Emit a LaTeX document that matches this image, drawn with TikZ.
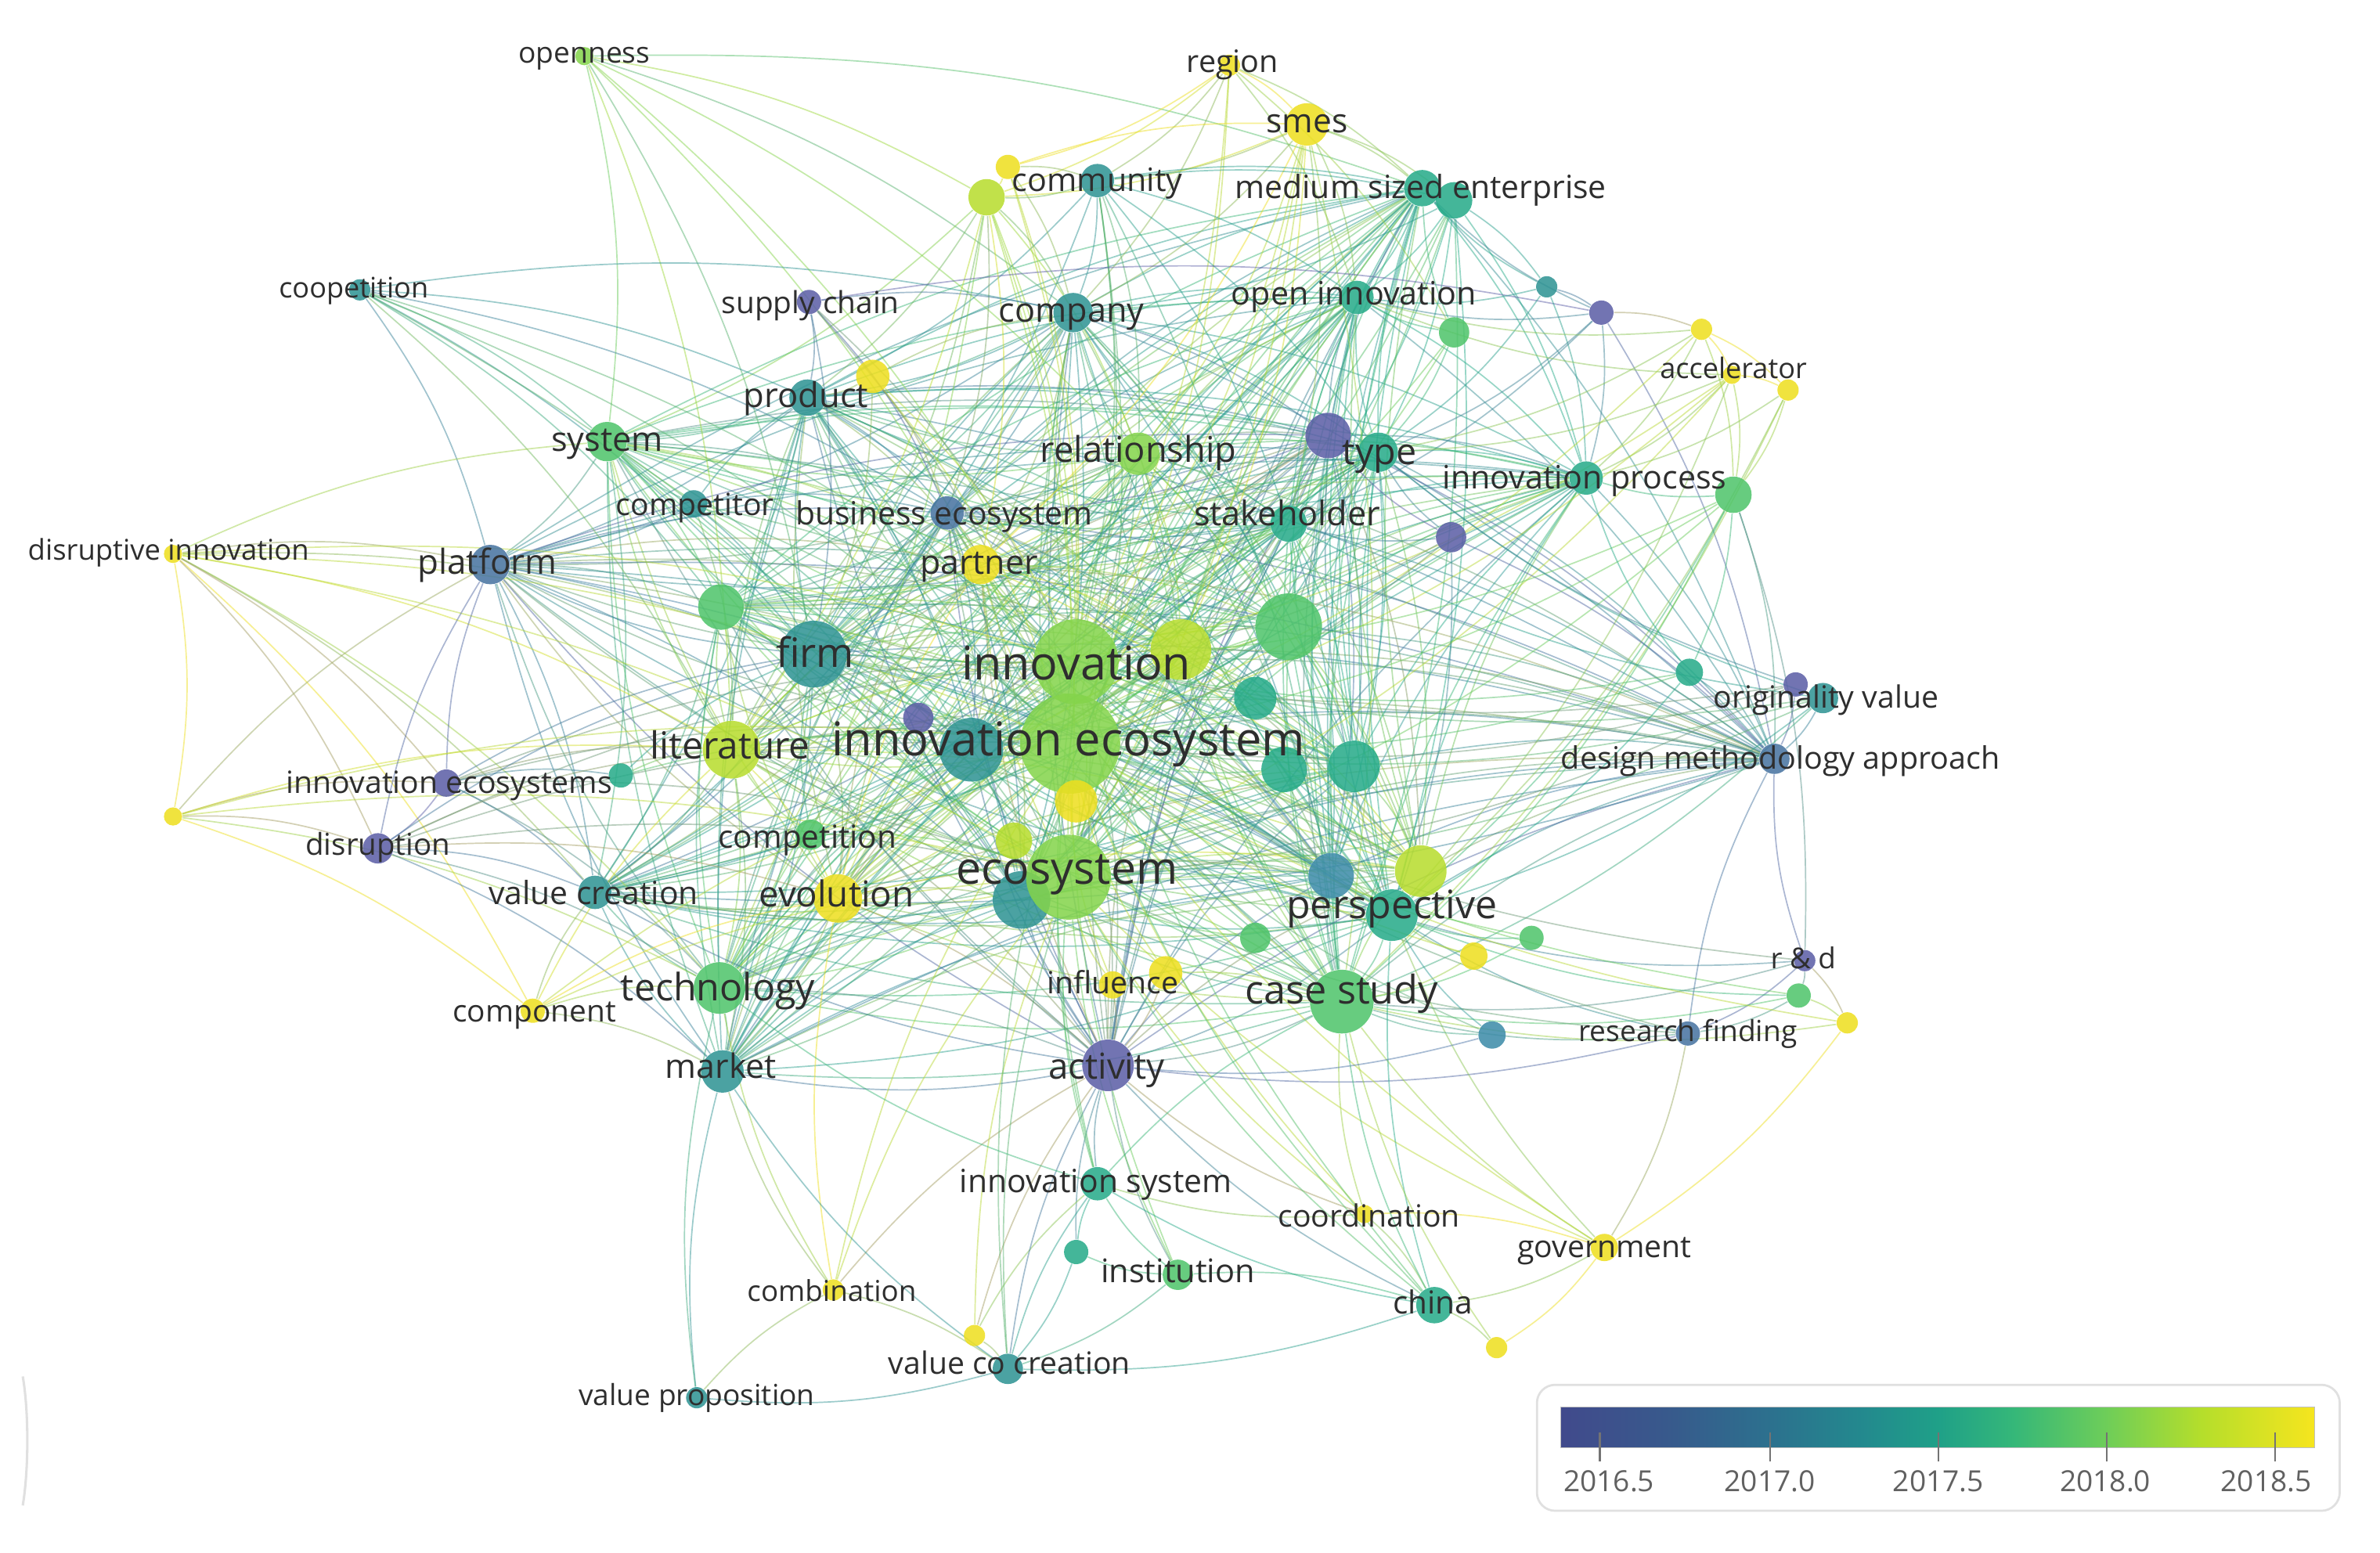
\documentclass[tikz,border=0pt]{standalone}
\usepackage{fontspec}
\setmainfont{Open Sans}
\pgfdeclarelayer{edges}
\pgfsetlayers{edges,main}
\definecolor{vP}{HTML}{5B5EA6}
\definecolor{vB}{HTML}{4673A0}
\definecolor{vBT}{HTML}{3C8BA8}
\definecolor{vT}{HTML}{2E9393}
\definecolor{vTG}{HTML}{26AB89}
\definecolor{vG}{HTML}{4FC46A}
\definecolor{vLG}{HTML}{84D44B}
\definecolor{vYG}{HTML}{B7DD2D}
\definecolor{vY}{HTML}{EEDF1F}
\definecolor{s0}{HTML}{414A8C}
\definecolor{s1}{HTML}{38598C}
\definecolor{s2}{HTML}{2C718E}
\definecolor{s3}{HTML}{23898E}
\definecolor{s4}{HTML}{1FA088}
\definecolor{s5}{HTML}{35B779}
\definecolor{s6}{HTML}{6CCD5A}
\definecolor{s7}{HTML}{B5DE2B}
\definecolor{s8}{HTML}{F6E51E}
\pgfdeclarehorizontalshading{viridisbar}{100bp}{color(0bp)=(s0); color(25bp)=(s0); color(32bp)=(s1); color(39bp)=(s2); color(45bp)=(s3); color(50bp)=(s4); color(55bp)=(s5); color(61bp)=(s6); color(67.5bp)=(s7); color(75bp)=(s8); color(100bp)=(s8)}
\tikzset{
  kwc/.style={circle, inner sep=0pt, draw=none, fill opacity=0.86},
  kwl/.style={inner sep=0pt, text=black!82, anchor=base},
  edge/.style={line width=0.5pt, draw opacity=0.48},
  legbox/.style={draw=black!12, line width=0.8pt, rounded corners=0.24cm, fill=white},
  ticklab/.style={inner sep=0pt, text=black!62, font=\fontsize{10.9pt}{11pt}\selectfont, anchor=base},
  tickline/.style={draw=black!55, line width=0.6pt}
}
\newcommand\kwnode[5]{\colorlet{c#1}{#5}\node[kwc,fill=#5,minimum size={#4*0.4mm}] (#1) at (#2,#3) {};}
\newcommand\kwlab[5]{\node[kwl,font=\fontsize{#4pt}{#4pt}\selectfont] (#1l) at ({#2},{#3+0.58*#4}) {#5};}
\newcommand\kwlinks[2]{\foreach \b in {#2}{\draw[edge,draw=c#1!50!c\b] (#1) to[bend left=10] (\b);}}
\begin{document}
\begin{tikzpicture}[x=0.02cm,y=-0.02cm]
\useasboundingbox (0,0) rectangle (1568,1023);
% ---------- circles ----------
\kwnode{opn}{385}{37}{6}{vLG}
\kwnode{reg}{810}{43}{7}{vY}
\kwnode{smes}{861}{82}{14}{vY}
\kwnode{u663}{664}{110}{8}{vY}
\kwnode{u648}{650}{130}{12}{vYG}
\kwnode{comm}{723}{119}{11}{vT}
\kwnode{mse}{937}{124}{12}{vTG}
\kwnode{u958}{958}{132}{12}{vTG}
\kwnode{coop}{237}{191}{7}{vT}
\kwnode{sup}{533}{199}{8}{vP}
\kwnode{comp}{707}{206}{13}{vT}
\kwnode{oinn}{894}{196}{11}{vTG}
\kwnode{u957}{958}{219}{10}{vG}
\kwnode{u1018}{1019}{189}{7}{vT}
\kwnode{u1055}{1055}{206}{8}{vP}
\kwnode{u1121}{1121}{217}{7}{vY}
\kwnode{acc}{1141}{247}{6}{vY}
\kwnode{u1178}{1178}{257}{7}{vY}
\kwnode{prod}{532}{262}{12}{vT}
\kwnode{u576}{575}{248}{11}{vY}
\kwnode{sys}{400}{291}{13}{vG}
\kwnode{rel}{750}{299}{14}{vLG}
\kwnode{typeP}{875}{287}{15}{vP}
\kwnode{type}{908}{298}{13}{vTG}
\kwnode{ip}{1045}{315}{11}{vTG}
\kwnode{u1142}{1142}{326}{12}{vG}
\kwnode{comp2}{457}{332}{9}{vT}
\kwnode{bus}{624}{338}{11}{vB}
\kwnode{stake}{849}{345}{12}{vTG}
\kwnode{u955}{956}{354}{10}{vP}
\kwnode{dinn}{114}{365}{6}{vY}
\kwnode{plat}{323}{372}{13}{vB}
\kwnode{part}{646}{372}{13}{vY}
\kwnode{u474}{475}{400}{15}{vG}
\kwnode{firm}{536}{431}{22}{vT}
\kwnode{u778}{778}{428}{20}{vYG}
\kwnode{u849}{849}{413}{22}{vG}
\kwnode{inn}{709}{436}{28}{vLG}
\kwnode{u826}{827}{460}{14}{vTG}
\kwnode{u1112}{1113}{443}{9}{vTG}
\kwnode{u1184}{1183}{451}{8}{vP}
\kwnode{ov}{1201}{460}{10}{vT}
\kwnode{u605}{605}{473}{10}{vP}
\kwnode{u641}{640}{494}{21}{vT}
\kwnode{ie}{705}{490}{33}{vLG}
\kwnode{u711}{709}{528}{14}{vY}
\kwnode{lit}{482}{494}{19}{vYG}
\kwnode{u847}{846}{507}{15}{vTG}
\kwnode{u893}{892}{505}{17}{vTG}
\kwnode{dma}{1169}{500}{10}{vB}
\kwnode{ies}{294}{516}{9}{vP}
\kwnode{u410}{409}{511}{8}{vTG}
\kwnode{u114}{114}{538}{6}{vY}
\kwnode{disr}{249}{559}{10}{vP}
\kwnode{compe}{534}{550}{10}{vG}
\kwnode{u670}{668}{554}{12}{vYG}
\kwnode{u673}{673}{593}{19}{vT}
\kwnode{eco}{704}{578}{28}{vLG}
\kwnode{u877}{877}{577}{15}{vBT}
\kwnode{u936}{936}{574}{17}{vYG}
\kwnode{persp}{917}{603}{17}{vTG}
\kwnode{vcr}{392}{588}{11}{vT}
\kwnode{evol}{552}{592}{16}{vY}
\kwnode{u827}{827}{618}{10}{vG}
\kwnode{u1009}{1009}{618}{8}{vG}
\kwnode{u970}{971}{630}{9}{vY}
\kwnode{rd}{1189}{633}{7}{vP}
\kwnode{u1186}{1185}{656}{8}{vG}
\kwnode{u1218}{1217}{674}{7}{vY}
\kwnode{tech}{474}{651}{17}{vG}
\kwnode{infl}{733}{649}{9}{vY}
\kwnode{u768}{768}{641}{11}{vY}
\kwnode{case}{884}{660}{21}{vG}
\kwnode{compn}{351}{666}{8}{vY}
\kwnode{u984}{983}{682}{9}{vBT}
\kwnode{rf}{1112}{681}{8}{vB}
\kwnode{mkt}{476}{706}{14}{vT}
\kwnode{act}{730}{702}{17}{vP}
\kwnode{isys}{723}{780}{11}{vTG}
\kwnode{coord}{899}{800}{6}{vY}
\kwnode{gov}{1057}{822}{9}{vY}
\kwnode{u710}{709}{825}{8}{vTG}
\kwnode{inst}{776}{840}{10}{vG}
\kwnode{comb}{549}{850}{7}{vY}
\kwnode{china}{945}{860}{12}{vTG}
\kwnode{u986}{986}{888}{7}{vY}
\kwnode{u641b}{642}{880}{7}{vY}
\kwnode{vcc}{664}{902}{10}{vT}
\kwnode{vpro}{459}{921}{7}{vT}
% ---------- labels ----------
\kwlab{opn}{385}{35}{10.9}{openness}
\kwlab{reg}{812}{41}{11.6}{region}
\kwlab{smes}{861}{80}{12.5}{smes}
\kwlab{comm}{723}{119}{12.1}{community}
\kwlab{mse}{936}{124}{12}{medium sized enterprise}
\kwlab{coop}{233}{190}{10.6}{coopetition}
\kwlab{sup}{534}{200}{11.4}{supply chain}
\kwlab{comp}{706}{205}{12.7}{company}
\kwlab{oinn}{892}{194}{12.1}{open innovation}
\kwlab{acc}{1142}{243}{10.6}{accelerator}
\kwlab{prod}{531}{261}{12.8}{product}
\kwlab{sys}{400}{290}{12.7}{system}
\kwlab{rel}{750}{297}{13.3}{relationship}
\kwlab{type}{909}{298}{13.7}{type}
\kwlab{ip}{1044}{315}{12.1}{innovation process}
\kwlab{comp2}{458}{333}{11.5}{competitor}
\kwlab{bus}{622}{339}{12}{business ecosystem}
\kwlab{stake}{848}{339}{12.7}{stakeholder}
\kwlab{dinn}{111}{363}{10.7}{disruptive innovation}
\kwlab{plat}{321}{371}{12.9}{platform}
\kwlab{part}{645}{371}{12.6}{partner}
\kwlab{firm}{537}{431}{15.2}{firm}
\kwlab{inn}{709}{438}{17.4}{innovation}
\kwlab{ov}{1203}{460}{11.5}{originality value}
\kwlab{ie}{704}{488}{17.5}{innovation ecosystem}
\kwlab{lit}{481}{492}{14}{literature}
\kwlab{dma}{1173}{500}{11.6}{design methodology approach}
\kwlab{ies}{296}{516}{11.5}{innovation ecosystems}
\kwlab{compe}{532}{552}{11.9}{competition}
\kwlab{disr}{249}{557}{11.3}{disruption}
\kwlab{eco}{703}{573}{16.8}{ecosystem}
\kwlab{persp}{917}{597}{14.7}{perspective}
\kwlab{vcr}{391}{589}{12}{value creation}
\kwlab{evol}{551}{590}{13.4}{evolution}
\kwlab{rd}{1188}{632}{10.8}{r \& d}
\kwlab{tech}{473}{651}{14.2}{technology}
\kwlab{infl}{733}{648}{11.5}{influence}
\kwlab{case}{884}{653}{14.8}{case study}
\kwlab{compn}{352}{667}{11.4}{component}
\kwlab{rf}{1112}{680}{10.9}{research finding}
\kwlab{mkt}{475}{703}{12.6}{market}
\kwlab{act}{729}{703}{13.4}{activity}
\kwlab{isys}{722}{779}{12}{innovation system}
\kwlab{coord}{902}{802}{11.5}{coordination}
\kwlab{gov}{1057}{822}{11.5}{government}
\kwlab{inst}{776}{838}{12.2}{institution}
\kwlab{comb}{548}{851}{10.8}{combination}
\kwlab{china}{944}{859}{11.9}{china}
\kwlab{vcc}{665}{899}{11.5}{value co creation}
\kwlab{vpro}{459}{920}{10.9}{value proposition}
% ---------- legend ----------
\node[legbox, minimum width={529*0.2mm}, minimum height={83*0.2mm}] (legend) at (1277,954) {};
\node[shade, shading=viridisbar, draw=black!25, line width=0.4pt, inner sep=0pt, minimum width={497*0.2mm}, minimum height={27*0.2mm}] (cbar) at (1276.5,940.5) {};
\foreach \tx/\lx/\yr in {1054/1060/2016.5, 1166/1166/2017.0, 1277/1277/2017.5, 1388/1387/2018.0, 1499/1493/2018.5}{
  \draw[tickline] (\tx,944) -- (\tx,963);
  \node[ticklab] (t\yr) at (\lx,983) {\yr};
}
\draw[black!12, line width=0.9pt] (15,907) .. controls (19,930) and (19,968) .. (15,992);
% ---------- edges ----------
\begin{pgfonlayer}{edges}
\fill[white] (0,0) rectangle (1568,1023);
\def\corelist{ie,inn,eco,firm,persp,case,lit,tech,evol,act,mkt,rel,stake,comp,prod,sys,plat,type,typeP,bus,part,u474,u849,u778,u641,u893,u673,u877,u936,mse,oinn,ip,dma,vcr}
\foreach \a [count=\i] in \corelist {
  \foreach \c [count=\j] in \corelist {
    \ifnum\j>\i\relax
      \draw[edge,draw=c\a!50!c\c] (\a) to[bend left=10] (\c);
    \fi
  }
}
\kwlinks{opn}{sys,comp,u648,mse,ie,inn,lit,firm,rel}
\kwlinks{reg}{u648,smes,comp,comm,mse,oinn,ie,inn,u957,u663}
\kwlinks{smes}{mse,comp,comm,u648,ie,inn,eco,oinn,rel,part,stake,u778,u958,case}
\kwlinks{comm}{comp,u648,mse,oinn,ie,inn,eco,firm,rel,stake,type,prod,case,u958}
\kwlinks{u663}{comm,u648,comp,smes,ie,inn}
\kwlinks{u648}{sys,prod,comp,ie,inn,eco,firm,lit,rel,tech,part,bus}
\kwlinks{u958}{mse,oinn,type,stake,ie,inn,eco,case,persp,comp,ip,u1018}
\kwlinks{coop}{sys,plat,firm,ie,inn,eco,prod,bus,lit,comp,u474}
\kwlinks{sup}{prod,comp,ie,bus,u1055,firm,inn}
\kwlinks{u1018}{mse,oinn,type,ip,u1055}
\kwlinks{u1055}{oinn,mse,type,ip,stake,dma,u1121}
\kwlinks{u1121}{acc,u1178,oinn,ip,u1142,ie,type}
\kwlinks{acc}{u1178,ip,u1142,inn,ie,eco,type,oinn,persp}
\kwlinks{u1178}{u1142,ip,persp,case}
\kwlinks{u957}{mse,oinn,type,ie,inn}
\kwlinks{u576}{prod,comp,ie,inn,bus,firm}
\kwlinks{comp2}{firm,plat,sys,ie,inn,lit,prod,bus}
\kwlinks{dinn}{plat,lit,ie,eco,tech,u114,compn,disr,vcr,firm,sys,ies,inn}
\kwlinks{u955}{type,stake,ie,inn,persp,dma,typeP}
\kwlinks{u1142}{ip,persp,case,ie,dma,u1112,eco,inn,rd}
\kwlinks{ov}{dma,u1184,ie,inn,eco,persp,type,stake,case}
\kwlinks{u1184}{dma,ie,inn,eco,type}
\kwlinks{u1112}{dma,ie,inn,persp,ip}
\kwlinks{ies}{plat,disr,lit,ie,eco,firm,vcr,tech,u410,inn}
\kwlinks{u410}{lit,ie,firm}
\kwlinks{u114}{plat,ies,disr,tech,compn,lit,eco,ie}
\kwlinks{disr}{plat,ie,eco,lit,vcr,tech,mkt,firm,evol,inn}
\kwlinks{compn}{vcr,tech,mkt,ie,eco,evol,lit}
\kwlinks{rd}{rf,u1186,u1218,persp,dma,case,ie}
\kwlinks{u1186}{u1218,rf,case,persp,ie}
\kwlinks{u1218}{ie,case,gov}
\kwlinks{rf}{dma,ie,case,persp,act,gov,eco}
\kwlinks{coord}{case,china,act,isys,gov,eco,ie}
\kwlinks{gov}{china,u986,case,persp,ie,eco}
\kwlinks{inst}{act,isys,vcc,china,eco,ie,u710}
\kwlinks{u710}{isys,vcc,act}
\kwlinks{comb}{mkt,tech,act,vcc,ie,eco,evol}
\kwlinks{china}{case,persp,act,isys,u986,eco,ie,vcc,inn}
\kwlinks{u986}{case}
\kwlinks{u641b}{vcc,act,isys,eco}
\kwlinks{vcc}{isys,act,mkt,vpro,ie,eco}
\kwlinks{vpro}{mkt,tech,comb}
\kwlinks{isys}{act,eco,ie,inn,tech,case}
\kwlinks{compe}{ie,eco,lit,firm}
\kwlinks{infl}{act,eco,ie}
\kwlinks{u768}{act,ie,case}
\kwlinks{u984}{case,persp,ie,act}
\kwlinks{u1009}{persp,ie,case}
\kwlinks{u970}{persp,case,ie}
\kwlinks{u827}{ie,eco}
\kwlinks{u826}{ie,inn}
\kwlinks{u847}{ie,persp}
\end{pgfonlayer}
\end{tikzpicture}
\end{document}
